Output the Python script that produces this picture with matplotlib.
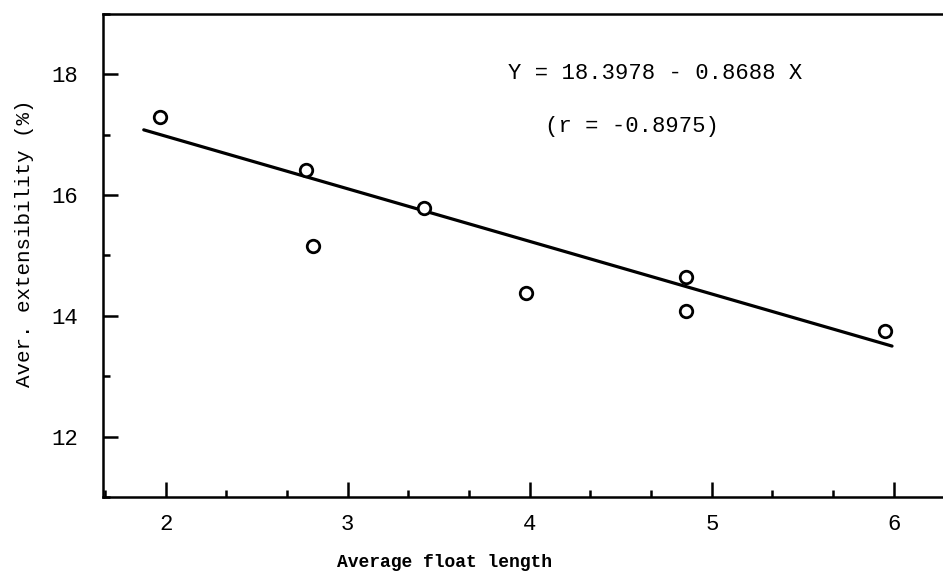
import numpy as np
import matplotlib
matplotlib.use("Agg")
from matplotlib import pyplot as plt
from matplotlib.ticker import MultipleLocator

# Data
floatLength = [1.97, 2.77, 2.81, 3.42, 3.98, 4.86, 4.86, 5.95]
extensibility = [17.29, 16.42, 15.15, 15.79, 14.38, 14.64, 14.08, 13.75]

# Regression line as drawn (end points)
lineX = [1.88, 5.99]
lineY = [17.08, 13.50]

xTicks = [2, 3, 4, 5, 6]
yTicks = [12, 14, 16, 18]

equationText = "Y = 18.3978 - 0.8688 X"
rText = "(r = -0.8975)"

plt.rcParams['font.family'] = ['Liberation Mono', 'DejaVu Sans Mono']

fig = plt.figure(figsize=(9.43, 5.78), dpi=100)
ax = fig.add_axes([0.109, 0.140, 0.891, 0.836])

# Regression line and points
ax.plot(lineX, lineY, color="black", linewidth=2.3, solid_capstyle="round")
ax.plot(floatLength, extensibility, linestyle="None", marker="o", markersize=9,
        markerfacecolor="white", markeredgecolor="black", markeredgewidth=2)

# Axis limits and ticks
ax.set_xlim(1.655, 6.27)
ax.set_ylim(11.0, 19.0)
ax.set_xticks(xTicks)
ax.set_yticks(yTicks)
ax.xaxis.set_minor_locator(MultipleLocator(1 / 3))
ax.yaxis.set_minor_locator(MultipleLocator(1))
ax.tick_params(which="major", direction="in", length=11, width=1.8, labelsize=16)
ax.tick_params(which="minor", direction="in", length=5, width=1.8)
ax.tick_params(axis="x", pad=12)
ax.tick_params(axis="y", pad=18)

for side in ["left", "bottom", "top"]:
    ax.spines[side].set_linewidth(1.8)
ax.spines["right"].set_visible(False)

# Labels and annotation
ax.set_xlabel("Average float length", fontsize=13, fontweight="bold", va="center")
ax.xaxis.set_label_coords(0.407, -0.135)
ax.set_ylabel("Aver. extensibility (%)", fontsize=15, va="center")
ax.yaxis.set_label_coords(-0.093, 0.526)
ax.text(4.69, 18.02, equationText, fontsize=16, ha="center", va="center")
ax.text(4.56, 17.13, rText, fontsize=16, ha="center", va="center")

fig.savefig("out.png", dpi=100)
